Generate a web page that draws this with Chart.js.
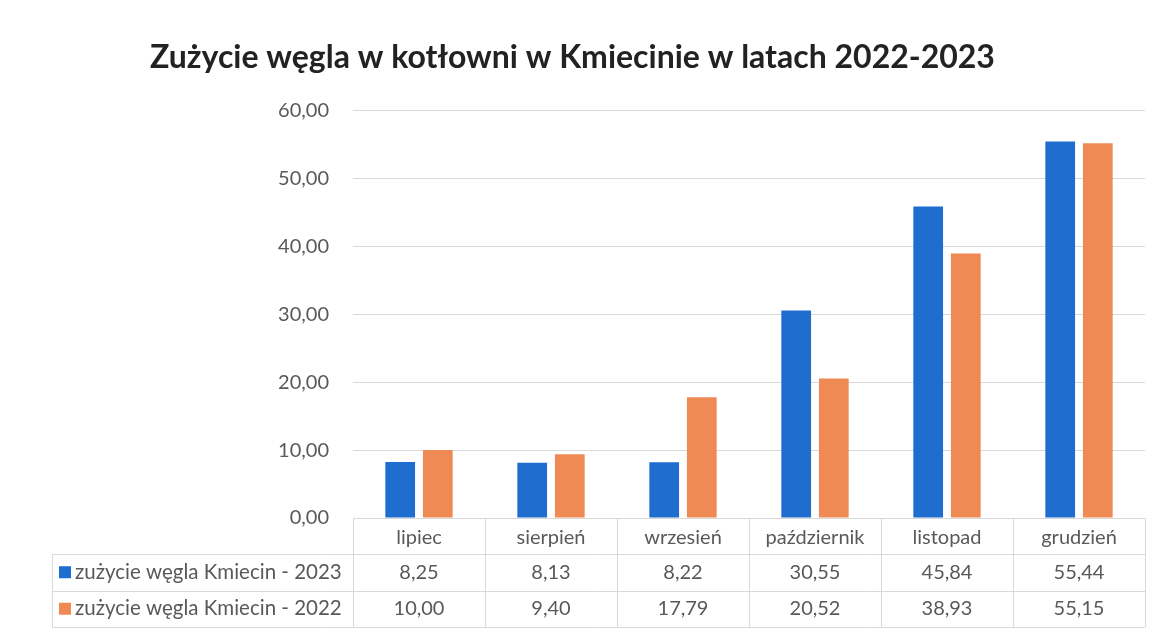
<!DOCTYPE html>
<html lang="pl">
<head>
<meta charset="utf-8">
<title>Zużycie węgla w kotłowni w Kmiecinie</title>
<script src="https://cdn.jsdelivr.net/npm/chart.js"></script>
<style>
    html, body { margin: 0; padding: 0; background: #ffffff; }
    #wrap { width: 1161px; height: 632px; }
</style>
</head>
<body>
<div id="wrap"><canvas id="coalChart" width="1161" height="632"></canvas></div>
<script>
// Dane z wykresu
const months = ['lipiec', 'sierpień', 'wrzesień', 'październik', 'listopad', 'grudzień'];
const usage2023 = [8.25, 8.13, 8.22, 30.55, 45.84, 55.44];
const usage2022 = [10.00, 9.40, 17.79, 20.52, 38.93, 55.15];
const seriesNames = ['zużycie węgla Kmiecin - 2023', 'zużycie węgla Kmiecin - 2022'];
const yMin = 0;
const yMax = 60;
const yStep = 10;

const BLUE = '#1f6dcf';
const ORANGE = '#f08a54';
const TEXT = '#595959';
const LINE = '#d9d9d9';
const FONT = 'Lato, "Open Sans", sans-serif';

function fmt(v) {
    return v.toFixed(2).replace('.', ',');
}

// Tabela danych pod wykresem (jak w Excelu)
const dataTable = {
    id: 'dataTable',
    afterDraw(chart) {
        const ctx = chart.ctx;
        const x = chart.scales.x;
        const top = chart.chartArea.bottom;
        const rowTop = top + 36;
        const rowH = 36.5;
        const bottom = rowTop + rowH * 2;
        const legendLeft = 52;
        const colW = (x.right - x.left) / months.length;

        ctx.save();
        ctx.strokeStyle = LINE;
        ctx.lineWidth = 1;
        ctx.beginPath();
        // poziome linie
        ctx.moveTo(x.left, top + 0.5);
        ctx.lineTo(x.right, top + 0.5);
        for (let r = 0; r <= 2; r++) {
            const y = Math.round(rowTop + rowH * r) + 0.5;
            ctx.moveTo(legendLeft, y);
            ctx.lineTo(x.right, y);
        }
        // pionowe linie
        for (let i = 0; i <= months.length; i++) {
            const xx = Math.round(x.left + colW * i) + 0.5;
            ctx.moveTo(xx, top);
            ctx.lineTo(xx, bottom);
        }
        ctx.moveTo(legendLeft + 0.5, rowTop);
        ctx.lineTo(legendLeft + 0.5, bottom);
        ctx.stroke();

        ctx.textBaseline = 'middle';
        const rows = [usage2023, usage2022];
        const colors = [BLUE, ORANGE];
        rows.forEach((vals, r) => {
            const cy = rowTop + rowH * r + rowH / 2;
            ctx.fillStyle = colors[r];
            ctx.fillRect(legendLeft + 7, cy - 6, 12, 12);
            ctx.fillStyle = TEXT;
            ctx.textAlign = 'left';
            ctx.font = '20.5px ' + FONT;
            ctx.fillText(seriesNames[r], legendLeft + 23, cy);
            ctx.textAlign = 'center';
            ctx.font = '20px ' + FONT;
            vals.forEach((v, i) => {
                ctx.fillText(fmt(v), x.getPixelForValue(i), cy);
            });
        });
        ctx.restore();
    }
};

new Chart(document.getElementById('coalChart'), {
    type: 'bar',
    data: {
        labels: months,
        datasets: [{
            label: seriesNames[0],
            data: usage2023,
            backgroundColor: BLUE,
            categoryPercentage: 0.57,
            barPercentage: 0.79
        }, {
            label: seriesNames[1],
            data: usage2022,
            backgroundColor: ORANGE,
            categoryPercentage: 0.57,
            barPercentage: 0.79
        }]
    },
    options: {
        responsive: false,
        animation: false,
        layout: { padding: { top: 0, right: 16, bottom: 0, left: 0 } },
        plugins: {
            legend: { display: false },
            tooltip: { enabled: false },
            title: {
                display: true,
                text: 'Zużycie węgla w kotłowni w Kmiecinie w latach 2022-2023',
                color: '#222222',
                font: { family: FONT, size: 32, weight: 'bold' },
                padding: { top: 38, bottom: 34 }
            }
        },
        scales: {
            x: {
                grid: { display: false },
                border: { display: false },
                ticks: {
                    color: TEXT,
                    font: { family: FONT, size: 20 },
                    padding: 0,
                    maxRotation: 0
                },
                afterFit(scale) { scale.height = 114; }
            },
            y: {
                min: yMin,
                max: yMax,
                border: { display: false },
                grid: { color: LINE, drawTicks: false },
                ticks: {
                    stepSize: yStep,
                    color: TEXT,
                    font: { family: FONT, size: 20 },
                    padding: 24,
                    callback: v => fmt(v)
                },
                afterFit(scale) { scale.width = 353; }
            }
        }
    },
    plugins: [dataTable]
});
</script>
</body>
</html>
